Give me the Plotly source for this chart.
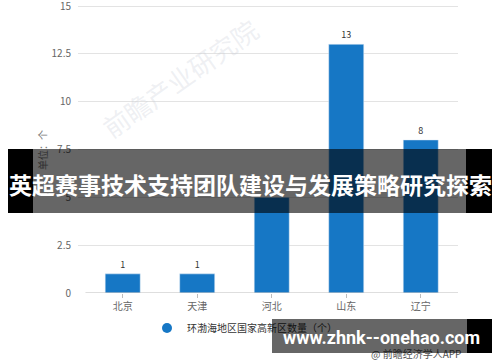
import plotly.graph_objects as go

categories = ["北京", "天津", "河北", "山东", "辽宁"]
values = [1, 1, 5, 13, 8]
series_name = "环渤海地区国家高新区数量（个）"
y_tick_step = 2.5
y_max_tick = 15
banner_title = "英超赛事技术支持团队建设与发展策略研究探索"
site_text = "www.zhnk--onehao.com"
source_text = "@ 前瞻经济学人APP"
y_unit = "单位：个"
watermark = "前瞻产业研究院"

W, H = 500, 362
ML, MR, MT, MB = 78, 42, 0, 69
PW, PH = W - ML - MR, H - MT - MB
Y_TOP = y_max_tick * PH / 287.0


def px(x):
    return (x - ML) / PW


def py(y):
    return (H - MB - y) / PH


BAR = "#1677C5"
FONT = "Noto Sans CJK SC"
SHADE = "rgba(0,0,0,0.6)"

fig = go.Figure()
fig.add_trace(go.Bar(
    x=categories, y=values, marker_color=BAR, width=0.47,
    text=[str(v) for v in values], textposition="outside",
    textfont=dict(size=9, color="#333333", family=FONT),
    cliponaxis=False, showlegend=False,
))
fig.add_trace(go.Scatter(
    x=[None], y=[None], mode="markers", name=series_name,
    marker=dict(symbol="circle", size=10, color=BAR),
))

shapes = [
    dict(type="line", xref="x", yref="y", x0=-0.5, x1=len(categories) - 0.5, y0=0, y1=0,
         line=dict(color="#bdbdbd", width=1), layer="above"),
]


def ann(text, x, y, size, color, family=FONT, angle=0):
    return dict(text=text, xref="paper", yref="paper", x=px(x), y=py(y),
                xanchor="center", yanchor="middle", showarrow=False, textangle=angle,
                font=dict(size=size, color=color, family=family))


def band(x0, x1, y0, y1, color):
    return dict(text=" ", xref="paper", yref="paper", x=px((x0 + x1) / 2), y=py((y0 + y1) / 2),
                xanchor="center", yanchor="middle", showarrow=False,
                width=x1 - x0, height=y1 - y0, bgcolor=color, borderpad=0, borderwidth=0,
                font=dict(size=2, color=color))


annotations = [
    ann(watermark, 180, 78, 26, "rgba(200,205,215,0.3)", angle=-35),
    ann(y_unit, 42, 150, 10, "#777777", angle=-90),
    ann(source_text, 416, 353, 10, "#555555"),
    band(8, 33, 149, 213, "black"),
    band(33, 466, 149, 213, SHADE),
    band(466, 492, 149, 213, "black"),
    band(272, 467, 319, 353, SHADE),
    band(467, 492, 319, 353, "black"),
    ann("<b>" + banner_title + "</b>", 250, 184, 23, "white"),
    ann("<b>" + site_text + "</b>", 381, 337, 18, "white", family="Roboto"),
]

fig.update_layout(
    width=W, height=H,
    margin=dict(l=ML, r=MR, t=MT, b=MB, autoexpand=False),
    paper_bgcolor="white", plot_bgcolor="white",
    font=dict(family=FONT, color="#666666"),
    bargap=0.53,
    xaxis=dict(range=[-0.6, len(categories) - 0.5], showgrid=False, zeroline=False, showline=False,
               ticks="outside", ticklen=4, tickcolor="#bdbdbd",
               tickfont=dict(size=10, color="#666666", family=FONT), fixedrange=True),
    yaxis=dict(range=[0, Y_TOP], tickmode="linear", tick0=0, dtick=y_tick_step, showgrid=True,
               gridcolor="#e3e3e3", gridwidth=1, zeroline=False, showline=False, ticks="",
               ticklabelstandoff=6, ticklabeloverflow="allow",
               tickfont=dict(size=10, color="#666666", family=FONT), fixedrange=True),
    legend=dict(orientation="h", x=px(147), y=py(328), xanchor="left", yanchor="middle",
                bgcolor="rgba(0,0,0,0)",
                font=dict(size=10, color="#333333", family=FONT), itemwidth=30),
    shapes=shapes,
    annotations=annotations,
)

fig.write_html("out.html")
